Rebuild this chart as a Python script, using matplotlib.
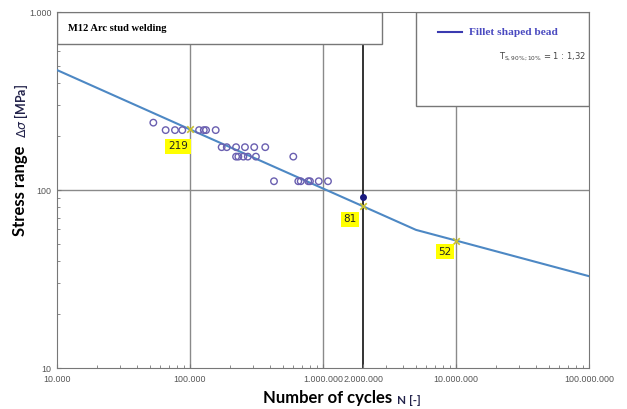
import numpy as np
import matplotlib.pyplot as plt
from matplotlib.patches import Rectangle
from matplotlib.ticker import FixedLocator, LogLocator, NullFormatter

# Daten
test_N = [53000, 65600, 77100, 87500, 117000, 127000, 132000, 156000,
          173000, 189000, 222000, 259000, 304000, 368000,
          222000, 231000, 252000, 272000, 313000, 598000,
          428000, 652000, 680000, 775000, 798000, 929000, 1090000]
test_S = [239, 217, 217, 217, 217, 217, 217, 217,
          174, 174, 174, 174, 174, 174,
          154, 154, 154, 154, 154, 154,
          112, 112, 112, 112, 112, 112, 112]

curve_N = [1e4, 1e5, 2e6, 5e6, 1e7, 1e8]
curve_S = [472, 219, 81, 59.7, 52, 32.8]

mark_N = [1e5, 2e6, 1e7]
mark_S = [219, 81, 52]
mark_lbl = ["219", "81", "52"]
mark_off = [(-12, -17), (-13, -13), (-11, -11)]

extra_N = [2e6]
extra_S = [91]

xticks = [1e4, 1e5, 1e6, 2e6, 1e7, 1e8]
xtick_lbl = ["10.000", "100.000", "1.000.000", "2.000.000", "10.000.000", "100.000.000"]
yticks = [10, 100, 1000]
ytick_lbl = ["10", "100", "1.000"]

fig = plt.figure(figsize=(6.27, 4.09), dpi=100)
ax = fig.add_axes([57/627, 1-368/409, 532/627, 356/409])
ax.set_xscale("log")
ax.set_yscale("log")
ax.set_xlim(1e4, 1e8)
ax.set_ylim(10, 1000)

# Gitter
for xv in [1e5, 1e6, 1e7]:
    ax.axvline(xv, color="#8a8a8a", lw=1, zorder=1)
ax.axhline(100, color="#8a8a8a", lw=1, zorder=1)
ax.axvline(2e6, color="#333333", lw=1.4, zorder=1)

# Kästen oben
ax.add_patch(Rectangle((0, 0.910), 0.611, 0.090, transform=ax.transAxes,
                       facecolor="white", edgecolor="#777777", lw=1, zorder=2))
ax.add_patch(Rectangle((0.675, 0.736), 0.325, 0.264, transform=ax.transAxes,
                       facecolor="white", edgecolor="#777777", lw=1, zorder=2))
ax.text(0.02, 0.955, "M12 Arc stud welding", transform=ax.transAxes,
        family="Liberation Serif", weight="bold", fontsize=7.6, va="center", zorder=3)
ax.plot([0.717, 0.762], [0.943, 0.943], transform=ax.transAxes,
        color="#3a3ab0", lw=1.5, zorder=3)
ax.text(0.775, 0.943, "Fillet shaped bead", transform=ax.transAxes,
        family="Liberation Serif", weight="bold", fontsize=8.2, color="#4a4ac0",
        va="center", zorder=3)
ax.text(0.995, 0.873, r"T$_{\mathrm{S,90\%;10\%}}$ = 1 : 1,32", transform=ax.transAxes,
        fontsize=6, color="#444444", ha="right", va="center", zorder=3)

# Kurve und Versuche
ax.plot(curve_N, curve_S, color="#4d88c4", lw=1.5, zorder=4)
ax.scatter(test_N, test_S, s=22, facecolors="none", edgecolors="#6a5fb0",
           linewidths=1, zorder=5)
ax.scatter(mark_N, mark_S, marker="x", s=22, color="#c8c030", linewidths=1.2, zorder=6)
ax.scatter(extra_N, extra_S, s=16, color="#1a1a80", zorder=6)
for n, s, t, off in zip(mark_N, mark_S, mark_lbl, mark_off):
    ax.annotate(t, (n, s), xytext=off, textcoords="offset pixels",
                ha="center", va="center", fontsize=7.5, color="#222222",
                bbox=dict(boxstyle="square,pad=0.25", facecolor="#ffff00",
                          edgecolor="none"), zorder=7)

# Achsen
for sp in ax.spines.values():
    sp.set_color("#777777")
ax.xaxis.set_major_locator(FixedLocator(xticks))
ax.set_xticklabels(xtick_lbl, family="Liberation Sans")
ax.yaxis.set_major_locator(FixedLocator(yticks))
ax.set_yticklabels(ytick_lbl, family="Liberation Sans")
ax.xaxis.set_minor_locator(LogLocator(base=10, subs=np.arange(2, 10)))
ax.yaxis.set_minor_locator(LogLocator(base=10, subs=np.arange(2, 10)))
ax.xaxis.set_minor_formatter(NullFormatter())
ax.yaxis.set_minor_formatter(NullFormatter())
ax.tick_params(which="both", direction="in", color="#777777", labelsize=6.4,
               labelcolor="#555555")
ax.tick_params(axis="x", pad=5)
ax.tick_params(axis="y", pad=4)
ax.tick_params(which="major", length=3)
ax.tick_params(which="minor", length=2)

fig.text(263/627, 1-398/409, "Number of cycles", family="Lato", weight="bold",
         fontsize=12, va="center", ha="left")
fig.text(397/627, 1-400/409, "N [-]", family="Lato", weight="bold",
         fontsize=8.5, va="center", ha="left", color="#22224a")
fig.text(20/627, 1-191/409, "Stress range", family="Lato", weight="bold",
         fontsize=12, rotation=90, va="center", ha="center")
fig.text(21/627, 1-111/409, r"$\Delta\sigma$ [MPa]", family="Lato",
         weight="bold", fontsize=9, rotation=90, va="center", ha="center",
         color="#22224a")

fig.savefig("out.png", dpi=100)
